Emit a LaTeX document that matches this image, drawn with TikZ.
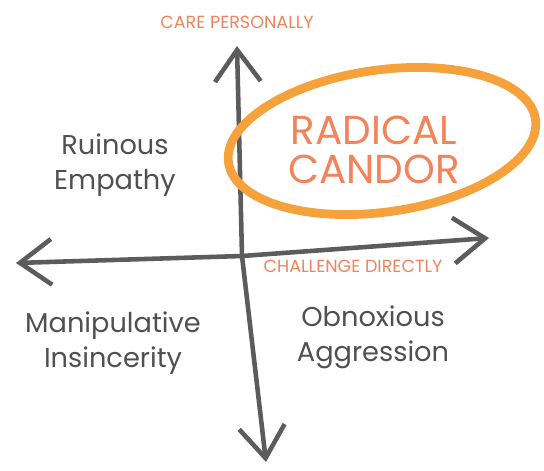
\documentclass[tikz,border=0pt]{standalone}
\usepackage{fontspec}
\setmainfont{Poppins}
\usetikzlibrary{arrows.meta}
\definecolor{axisgray}{HTML}{5C5C5C}
\definecolor{inkgray}{HTML}{505050}
\definecolor{candor}{HTML}{F2835A}
\definecolor{ringorange}{HTML}{F5A23C}
\tikzset{
  axis/.style={axisgray,line width=2.6pt,line cap=round,
    -{Straight Barb[length=18pt,width=26pt,line width=2.6pt]}},
  quadrant/.style={inkgray,align=center,font=\fontsize{15.5}{20}\selectfont},
  axislabel/.style={candor,font=\fontsize{10}{11}\selectfont},
}
\begin{document}
\begin{tikzpicture}[x=0.02cm,y=-0.02cm]
\useasboundingbox (0,0) rectangle (544,470);
% axes
\coordinate (cross) at (242,256);
\coordinate (top) at (237,46);
\coordinate (bottom) at (266,462);
\coordinate (left) at (16,263);
\coordinate (right) at (489,238);
\draw [axis] (cross) -- (top);
\draw [axis] (cross) -- (bottom);
\draw [axis] (cross) -- (left);
\draw [axis] (cross) -- (right);
% the ring
\draw [ringorange,line width=5pt,rotate around={8:(382,141)}] (382,141) ellipse (155 and 71);
\node (radical) [candor,align=center,font=\fontsize{23}{22}\selectfont] at (374,150) {RADICAL\\CANDOR};
% axis names
\node (care) [axislabel] at (237,22) {CARE PERSONALLY};
\node (challenge) [axislabel] at (353,266) {CHALLENGE DIRECTLY};
% quadrants
\node (ruinous) [quadrant] at (115,165) {Ruinous\\Empathy};
\node (manipulative) [quadrant] at (113,343) {Manipulative\\Insincerity};
\node (obnoxious) [quadrant] at (373,337) {Obnoxious\\Aggression};
\end{tikzpicture}
\end{document}
